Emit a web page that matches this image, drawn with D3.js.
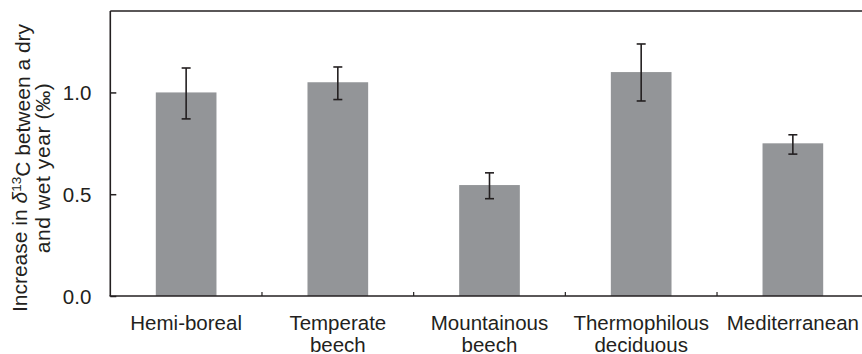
<!DOCTYPE html>
<html lang="en">
  <head>
    <meta charset="UTF-8">
    <title>d13C increase</title>
    <style>
      body { margin: 0; background: #fff; }
      text { font-family: "Liberation Sans", Arial, sans-serif; fill: #231f20; }
    </style>
  </head>
  <body>
    <div id="chart"></div>
    <script src="https://d3js.org/d3.v7.min.js"></script>
    <script>
      // values
      let categories = ["Hemi-boreal", "Temperate beech", "Mountainous beech", "Thermophilous deciduous", "Mediterranean"];
      let labelLines = [["Hemi-boreal"], ["Temperate", "beech"], ["Mountainous", "beech"], ["Thermophilous", "deciduous"], ["Mediterranean"]];
      let means = [1.00, 1.05, 0.545, 1.10, 0.75];
      let errLow = [0.87, 0.965, 0.478, 0.958, 0.697];
      let errHigh = [1.12, 1.125, 0.605, 1.238, 0.792];
      let yTicks = [0.0, 0.5, 1.0];

      let width = 862;
      let height = 354;
      let mLeft = 110.3, mTop = 11, mBottom = 296, mRight = 868.7;
      let ink = "#231f20";

      let svg = d3.select("#chart").append("svg").attr("width", width).attr("height", height);

      let x = d3.scaleBand().domain(categories).range([mLeft, mRight]).paddingInner(0.6).paddingOuter(0.3);
      let y = d3.scaleLinear().domain([0, 1.4]).range([mBottom, mTop]);

      // bars
      svg.selectAll(".bar")
        .data(categories)
        .enter()
        .append("rect")
        .attr("class", "bar")
        .attr("x", function(d) { return x(d); })
        .attr("y", function(d, i) { return y(means[i]); })
        .attr("width", x.bandwidth())
        .attr("height", function(d, i) { return mBottom - y(means[i]); })
        .style("fill", "#939598");

      // error bars
      let eb = svg.selectAll(".err").data(categories).enter().append("g").attr("class", "err")
        .attr("stroke", ink).attr("stroke-width", 1.6);
      eb.append("line")
        .attr("x1", function(d) { return x(d) + x.bandwidth() / 2; })
        .attr("x2", function(d) { return x(d) + x.bandwidth() / 2; })
        .attr("y1", function(d, i) { return y(errLow[i]); })
        .attr("y2", function(d, i) { return y(errHigh[i]); });
      [errLow, errHigh].forEach(function(arr) {
        eb.append("line")
          .attr("x1", function(d) { return x(d) + x.bandwidth() / 2 - 4.5; })
          .attr("x2", function(d) { return x(d) + x.bandwidth() / 2 + 4.5; })
          .attr("y1", function(d, i) { return y(arr[i]); })
          .attr("y2", function(d, i) { return y(arr[i]); });
      });

      // y axis, inward ticks
      let yAxis = svg.append("g")
        .attr("transform", "translate(" + mLeft + ",0)")
        .call(d3.axisLeft(y).tickValues(yTicks).tickFormat(d3.format(".1f")).tickSize(-6).tickPadding(19));
      yAxis.select(".domain").remove();
      yAxis.selectAll("line").attr("stroke", ink).attr("stroke-width", 1.5);
      yAxis.selectAll("text").style("font-size", "20.5px").attr("fill", ink).attr("dy", "0.36em");

      // frame lines
      svg.append("line").attr("x1", mLeft).attr("x2", mLeft).attr("y1", mTop).attr("y2", mBottom)
        .attr("stroke", ink).attr("stroke-width", 1.6);
      svg.append("line").attr("x1", mLeft).attr("x2", width).attr("y1", mTop).attr("y2", mTop)
        .attr("stroke", ink).attr("stroke-width", 1.6);
      svg.append("line").attr("x1", mLeft - 0.8).attr("x2", width).attr("y1", mBottom).attr("y2", mBottom)
        .attr("stroke", ink).attr("stroke-width", 1.6);

      // x ticks between categories
      let step = x.step();
      svg.selectAll(".xtick")
        .data(categories.slice(1))
        .enter()
        .append("line")
        .attr("x1", function(d) { return x(d) - step * x.paddingInner() / 2; })
        .attr("x2", function(d) { return x(d) - step * x.paddingInner() / 2; })
        .attr("y1", mBottom)
        .attr("y2", mBottom - 4)
        .attr("stroke", ink).attr("stroke-width", 1.2);

      // category labels
      let lab = svg.selectAll(".xlab")
        .data(categories)
        .enter()
        .append("text")
        .attr("class", "xlab")
        .attr("text-anchor", "middle")
        .style("font-size", "20.5px");
      lab.selectAll("tspan")
        .data(function(d, i) { return labelLines[i].map(function(t) { return { t: t, c: d }; }); })
        .enter()
        .append("tspan")
        .attr("x", function(d) { return x(d.c) + x.bandwidth() / 2; })
        .attr("y", function(d, j) { return 330 + j * 22; })
        .text(function(d) { return d.t; });

      // y title
      let title = svg.append("text")
        .attr("transform", "translate(0,168) rotate(-90)")
        .attr("text-anchor", "middle")
        .style("font-size", "21px");
      let t1 = title.append("tspan").attr("x", 0).attr("y", 27);
      t1.append("tspan").text("Increase in ");
      t1.append("tspan").style("font-style", "italic").text("\u03b4");
      t1.append("tspan").attr("dy", "-0.45em").style("font-size", "13.5px").text("13");
      t1.append("tspan").attr("dy", "0.45em").text("C between a dry");
      title.append("tspan").attr("x", 0).attr("y", 50).style("letter-spacing", "0.6px")
        .text("and wet year (\u2030)");
    </script>
  </body>
</html>
